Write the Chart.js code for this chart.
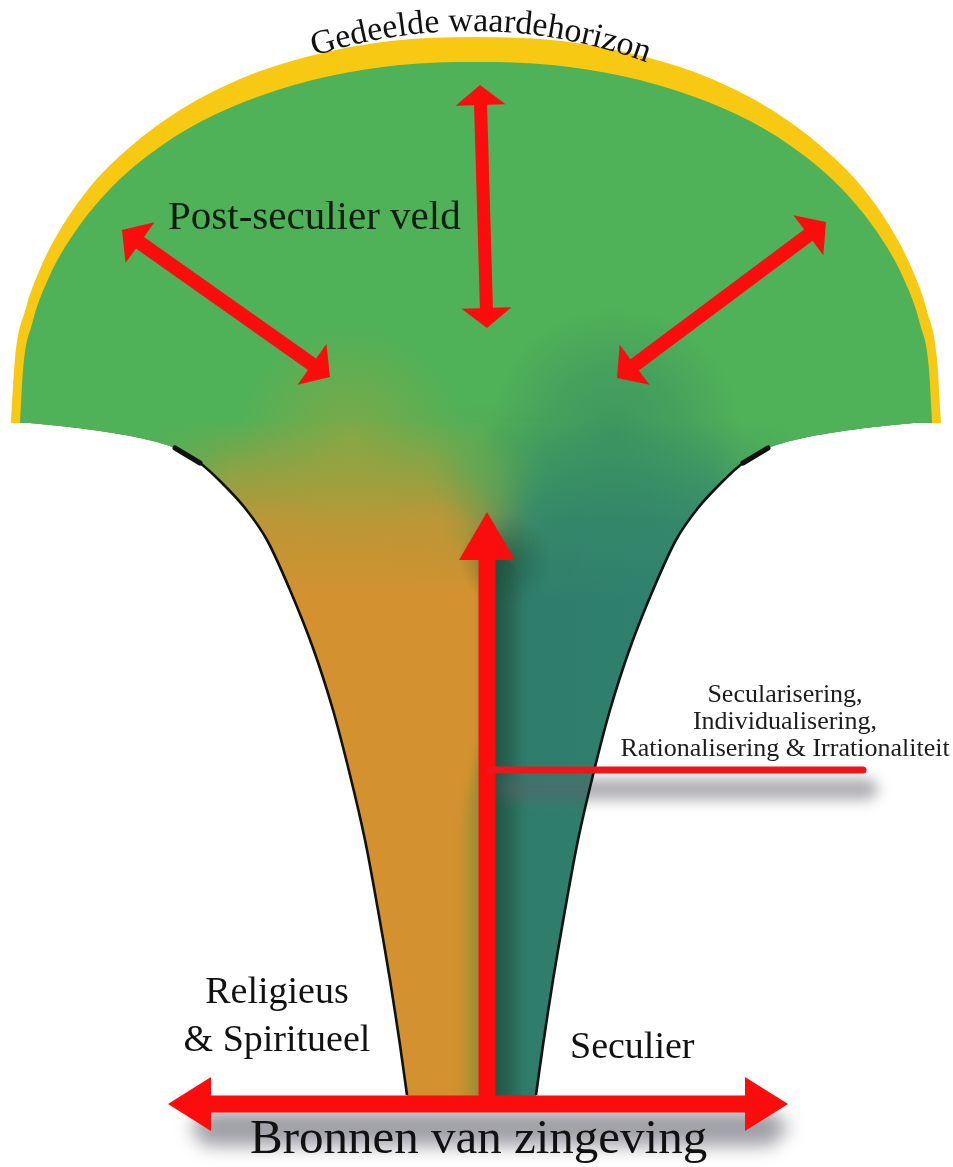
<!DOCTYPE html>
<html lang="nl">
<head>
<meta charset="utf-8">
<title>Gedeelde waardehorizon</title>
<script src="https://cdn.jsdelivr.net/npm/chart.js@4/dist/chart.umd.min.js"></script>
<style>
html,body{margin:0;padding:0;background:#ffffff;overflow:hidden;}
#wrap{position:relative;width:953px;height:1167px;}
canvas{display:block;}
</style>
</head>
<body>
<div id="wrap"><canvas id="diagram" width="953" height="1167"></canvas></div>
<script>
// ---------------- data (diagram units) ----------------
const horizonOuterX = [11,15,25,40,60,90,130,180,240,310,390,476,562,642,712,772,822,862,892,912,927,937,941];
const horizonOuterY = [422,359,311,269,230,187,147,110,79,56,41,37,41,56,79,110,147,187,230,269,311,359,422];
const horizonInnerX = [20,23,32,50,75,110,150,200,260,330,400,476,552,622,692,752,802,842,877,902,920,929,932];
const horizonInnerY = [422,370,324,275,232,189,154,122,96,76,65,62,65,76,96,122,154,189,232,275,324,370,422];

const funnelY      = [422,426,431,438,448,463,483,508,540,590,648,710,775,840,910,980,1045,1095,1104];
const funnelLeftX  = [20,60,100,140,175,200,222,245,267,290,313,333,350,365,378,390,400,407,408];
const funnelRightX = [923,883,843,803,768,743,721,698,676,653,630,610,593,578,565,553,543,536,535];
const outlineFirst = 4, outlineLast = 17;

const arrowNames = ['domeUp','domeLeft','domeRight','rise','sources'];
const arrowFromX = [480,122,826,487,168];
const arrowFromY = [85,230,222,1104,1104];
const arrowToX   = [487,330,617,487,788];
const arrowToY   = [328,377,378,512,1104];

const branchX = [490,863];
const branchY = [770,770];

const horizonTitle = 'Gedeelde waardehorizon';
const labelTexts = ['Post-seculier veld','Secularisering,','Individualisering,','Rationalisering & Irrationaliteit','Religieus','& Spiritueel','Seculier','Bronnen van zingeving'];

// ---------------- styles / layout (kept apart from the data) ----------------
const SERIF = '"Liberation Serif", "Times New Roman", Times, serif';
const C = {
  yellow:'#f8c912', green:'#4fb158', orange:'#d4912f', teal:'#318474', red:'#fb0d0d'
};
const arrowStyle = {
  domeUp:   {shaft:13, headW:50, headL:20, double:true},
  domeLeft: {shaft:14, headW:50, headL:22, double:true},
  domeRight:{shaft:14, headW:50, headL:22, double:true},
  rise:     {shaft:17, headW:56, headL:48, double:false},
  sources:  {shaft:17, headW:54, headL:43, double:true}
};
const labelLayout = [
  {x:168, y:229, size:41, align:'left',   color:'#0b1d0c'},
  {x:785, y:702, size:26, align:'center', color:'#1c1c1c'},
  {x:785, y:729, size:26, align:'center', color:'#1c1c1c'},
  {x:785, y:756, size:26, align:'center', color:'#1c1c1c'},
  {x:277, y:1003, size:38, align:'center', color:'#111111'},
  {x:277, y:1051, size:38, align:'center', color:'#111111'},
  {x:570, y:1058, size:38, align:'left',   color:'#111111'},
  {x:250, y:1153, size:49, align:'left',   color:'#111111'}
];
const titleArc = {cx:471, cy:537, r:506, mid:481, size:34};

// ---------------- helpers ----------------
const P = (xs, ys) => xs.map((x, i) => ({x, y: ys[i]}));

function linGrad(axis, from, to, stops) {
  return (c) => {
    const ch = c.chart, sx = ch.scales.x, sy = ch.scales.y;
    if (!sx || !sy || !ch.chartArea) return 'rgba(0,0,0,0)';
    const g = axis === 'x'
      ? ch.ctx.createLinearGradient(sx.getPixelForValue(from), 0, sx.getPixelForValue(to), 0)
      : ch.ctx.createLinearGradient(0, sy.getPixelForValue(from), 0, sy.getPixelForValue(to));
    stops.forEach(([v, col]) => g.addColorStop((v - from) / (to - from), col));
    return g;
  };
}
function radGrad(cx, cy, r, stops) {
  return (c) => {
    const ch = c.chart, sx = ch.scales.x, sy = ch.scales.y;
    if (!sx || !sy || !ch.chartArea) return 'rgba(0,0,0,0)';
    const px = sx.getPixelForValue(cx), py = sy.getPixelForValue(cy);
    const pr = Math.abs(sx.getPixelForValue(cx + r) - px);
    const g = ch.ctx.createRadialGradient(px, py, 0, px, py, pr);
    stops.forEach(([t, col]) => g.addColorStop(t, col));
    return g;
  };
}
function arrowPolygon(x1, y1, x2, y2, st) {
  const dx = x2 - x1, dy = y2 - y1, L = Math.hypot(dx, dy);
  const ux = dx / L, uy = dy / L, nx = -uy, ny = ux;
  const hs = st.shaft / 2, hw = st.headW / 2, hl = st.headL;
  const Q = (a, b) => ({x: x1 + ux * a + nx * b, y: y1 + uy * a + ny * b});
  const out = [];
  if (st.double) out.push(Q(0, 0), Q(hl, hw), Q(hl, hs)); else out.push(Q(0, hs));
  out.push(Q(L - hl, hs), Q(L - hl, hw), Q(L, 0), Q(L - hl, -hw), Q(L - hl, -hs));
  if (st.double) out.push(Q(hl, -hs), Q(hl, -hw)); else out.push(Q(0, -hs));
  return out;
}
const rect = (x1, y1, x2, y2) => [{x:x1,y:y1},{x:x2,y:y1},{x:x2,y:y2},{x:x1,y:y2}];

// ---------------- shapes built from the data ----------------
const leftEdge = P(funnelLeftX, funnelY);
const rightEdge = P(funnelRightX, funnelY);
const bodyPts = leftEdge.concat(rightEdge.slice().reverse());
const fieldPts = bodyPts.concat([{x:925, y:290}, {x:20, y:290}]);

const base = {borderWidth:0, borderColor:'rgba(0,0,0,0)', pointRadius:0, tension:0};
const layers = [];
layers.push({...base, label:'Gedeelde waardehorizon', data:P(horizonOuterX, horizonOuterY),
  fill:{value:423}, backgroundColor:C.yellow, cubicInterpolationMode:'monotone'});
layers.push({...base, label:'Post-seculier veld', data:P(horizonInnerX, horizonInnerY),
  fill:{value:423}, backgroundColor:C.green, cubicInterpolationMode:'monotone'});
layers.push({...base, label:'bronnen', data:bodyPts, fill:'shape', tension:0.3,
  backgroundColor:linGrad('x', 0, 953, [[0,C.orange],[474,C.orange],[481,'#b58f35'],[494,'#2a6652'],[530,'#2f7e6c'],[953,C.teal]])});
layers.push({...base, label:'zachte overgang', blur:14, data:rect(425, 440, 550, 548), fill:'shape',
  backgroundColor:linGrad('x', 425, 550, [[425,C.orange],[452,C.orange],[487,'#8f8f44'],[522,'#33806c'],[550,'#30806f']])});
layers.push({...base, label:'overgang', data:bodyPts, fill:'shape', tension:0.3,
  backgroundColor:linGrad('y', 420, 600, [[420,'rgba(79,177,88,1)'],[470,'rgba(79,177,88,0.55)'],[520,'rgba(79,177,88,0.18)'],[600,'rgba(79,177,88,0)']])});
layers.push({...base, label:'flank', data:bodyPts, fill:'shape', tension:0.3,
  backgroundColor:linGrad('x', 0, 953, [[0,'rgba(79,177,88,1)'],[150,'rgba(79,177,88,1)'],[232,'rgba(79,177,88,0)'],[712,'rgba(79,177,88,0)'],[800,'rgba(79,177,88,1)'],[953,'rgba(79,177,88,1)']])});
layers.push({...base, label:'midden', data:fieldPts, fill:'shape', tension:0.3,
  backgroundColor:radGrad(486, 462, 62, [[0,'rgba(88,168,86,0.55)'],[1,'rgba(88,168,86,0)']])});
layers.push({...base, label:'religieus gloed', data:fieldPts, fill:'shape', tension:0.3,
  backgroundColor:radGrad(350, 440, 115, [[0,'rgba(175,160,55,0.5)'],[1,'rgba(175,160,55,0)']])});
layers.push({...base, label:'seculier gloed', data:fieldPts, fill:'shape', tension:0.3,
  backgroundColor:radGrad(615, 432, 125, [[0,'rgba(42,122,104,0.48)'],[0.55,'rgba(42,122,104,0.26)'],[1,'rgba(42,122,104,0)']])});
layers.push({...base, label:'schaduw kop', data:fieldPts, fill:'shape', tension:0.3,
  backgroundColor:radGrad(506, 560, 46, [[0,'rgba(30,78,60,0.5)'],[1,'rgba(30,78,60,0)']])});
layers.push({...base, label:'schaduw rechts', data:[{x:494,y:545},{x:522,y:575},{x:522,y:1104},{x:494,y:1104}], fill:'shape',
  backgroundColor:linGrad('x', 494, 522, [[494,'rgba(28,72,58,0.6)'],[522,'rgba(28,72,58,0)']])});
layers.push({...base, label:'schaduw links', blur:4, data:[{x:482,y:740},{x:482,y:1100},{x:458,y:1100},{x:458,y:840}], fill:'shape',
  backgroundColor:linGrad('x', 458, 482, [[458,'rgba(95,140,60,0)'],[482,'rgba(95,140,60,0.6)']])});
// soft shadows (blurred while filled)
layers.push({...base, label:'schaduw tak', blur:7, data:[{x:500,y:778},{x:870,y:778},{x:880,y:790},{x:870,y:800},{x:500,y:800}], fill:'shape',
  backgroundColor:'rgba(95,95,105,0.5)'});
layers.push({...base, label:'schaduw basis', blur:9, data:[{x:205,y:1110},{x:770,y:1110},{x:790,y:1128},{x:770,y:1146},{x:205,y:1146},{x:190,y:1128}], fill:'shape',
  backgroundColor:'rgba(80,80,92,0.55)'});
// funnel outlines
const outlineL = leftEdge.slice(outlineFirst, outlineLast + 1);
const outlineR = rightEdge.slice(outlineFirst, outlineLast + 1);
layers.push({...base, label:'rand links', data:outlineL, fill:false, tension:0.3, borderWidth:2.6, borderColor:'#111111'});
layers.push({...base, label:'rand rechts', data:outlineR, fill:false, tension:0.3, borderWidth:2.6, borderColor:'#111111'});
layers.push({...base, label:'rand links top', data:outlineL.slice(0, 2), fill:false, borderWidth:5, borderColor:'#111111', borderCapStyle:'round'});
layers.push({...base, label:'rand rechts top', data:outlineR.slice(0, 2), fill:false, borderWidth:5, borderColor:'#111111', borderCapStyle:'round'});
// red arrows
arrowNames.forEach((name, i) => {
  layers.push({...base, label:name, data:arrowPolygon(arrowFromX[i], arrowFromY[i], arrowToX[i], arrowToY[i], arrowStyle[name]),
    fill:'shape', backgroundColor:C.red});
});
layers.push({...base, label:'tak', data:P(branchX, branchY), fill:false, borderWidth:7, borderColor:'#ec161c', borderCapStyle:'round'});

// first layer listed is bottom-most
const N = layers.length;
layers.forEach((d, i) => { d.order = N - i; });

// blur helper: the filler paints a dataset's fill just before that dataset is drawn,
// so the canvas filter is switched on right after the preceding dataset.
const blurPlugin = {
  id: 'softShadow',
  beforeDatasetsDraw(chart) {
    chart.ctx.filter = (layers[0] && layers[0].blur) ? `blur(${layers[0].blur}px)` : 'none';
  },
  afterDatasetDraw(chart, args) {
    const next = layers[args.index + 1];
    chart.ctx.filter = (next && next.blur) ? `blur(${next.blur}px)` : 'none';
  },
  afterDatasetsDraw(chart) { chart.ctx.filter = 'none'; }
};

// ---------------- text plugin ----------------
const textPlugin = {
  id: 'diagramText',
  afterDatasetsDraw(chart) {
    const {ctx} = chart, sx = chart.scales.x, sy = chart.scales.y;
    ctx.save();
    ctx.filter = 'none';
    ctx.textBaseline = 'alphabetic';
    labelTexts.forEach((t, i) => {
      const L = labelLayout[i];
      ctx.font = `${L.size}px ${SERIF}`;
      ctx.fillStyle = L.color;
      ctx.textAlign = L.align;
      ctx.fillText(t, sx.getPixelForValue(L.x), sy.getPixelForValue(L.y));
    });
    // curved title along the horizon
    const A = titleArc;
    ctx.font = `${A.size}px ${SERIF}`;
    ctx.fillStyle = '#111111';
    ctx.textAlign = 'center';
    const chars = [...horizonTitle];
    const widths = chars.map(ch => ctx.measureText(ch).width);
    const total = widths.reduce((a, b) => a + b, 0);
    const thMid = Math.asin((A.mid - A.cx) / A.r);
    let acc = 0;
    chars.forEach((ch, i) => {
      const th = thMid - total / (2 * A.r) + (acc + widths[i] / 2) / A.r;
      acc += widths[i];
      const px = sx.getPixelForValue(A.cx + A.r * Math.sin(th));
      const py = sy.getPixelForValue(A.cy - A.r * Math.cos(th));
      ctx.save();
      ctx.translate(px, py);
      ctx.rotate(th);
      ctx.fillText(ch, 0, 0);
      ctx.restore();
    });
    ctx.restore();
  }
};

new Chart(document.getElementById('diagram'), {
  type: 'line',
  data: {datasets: layers},
  options: {
    responsive: false,
    devicePixelRatio: 1,
    animation: false,
    events: [],
    layout: {padding: 0},
    elements: {point: {radius: 0, hoverRadius: 0}},
    scales: {
      x: {type: 'linear', min: 0, max: 953, display: false},
      y: {type: 'linear', min: 0, max: 1167, reverse: true, display: false}
    },
    plugins: {legend: {display: false}, tooltip: {enabled: false}, title: {display: false}}
  },
  plugins: [blurPlugin, textPlugin]
});
</script>
</body>
</html>
